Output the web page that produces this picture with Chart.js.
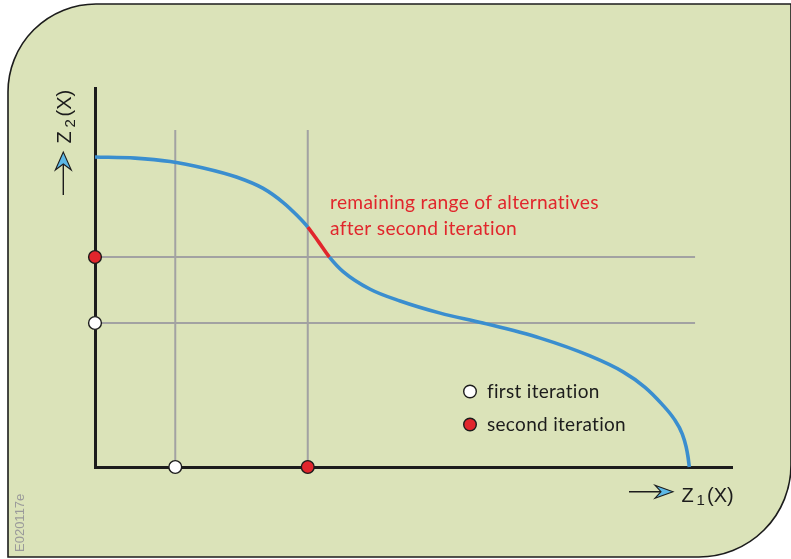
<!DOCTYPE html>
<html><head><meta charset="utf-8">
<script src="https://cdn.jsdelivr.net/npm/chart.js@4"></script>
<style>html,body{margin:0;padding:0;background:#fff;overflow:hidden}canvas{display:block}</style>
</head><body>
<canvas id="c" width="791" height="559"></canvas>
<script>
// ---- data (arbitrary units, 0..100 on both axes) ----
const curveX = [0, 6.3, 11.8, 17.0, 22.2, 26.4, 29.6, 31.7, 33.4, 35.1, 36.8, 39.0, 43.2, 47.9, 54.2, 60.9, 69.9, 77.7, 82.9, 86.3, 89.0, 90.9, 92.2, 92.8, 93.1, 93.3];
const curveY = [81.8, 81.5, 80.6, 78.9, 76.5, 73.5, 69.7, 66.4, 63.3, 59.4, 55.4, 51.5, 46.9, 43.8, 40.6, 38.0, 34.0, 29.3, 25.1, 21.1, 16.6, 12.7, 8.7, 5.3, 2.6, 0];
const remainingRangeX = [33.4, 36.8];
const gridXValues = [12.6, 33.4];
const gridYValues = [55.4, 38.0];
const gridTop = 88.9;
const gridRight = 94.2;
const firstIterX = [0, 12.6];
const firstIterY = [38.0, 0];
const secondIterX = [0, 33.4];
const secondIterY = [55.4, 0];
const legendLabels = ['first iteration', 'second iteration'];
const annotationLines = ['remaining range of alternatives', 'after second iteration'];
const xAxisLabel = ['Z', '1', '(X)'];
const yAxisLabel = ['Z', '2', '(X)'];
const figureCode = 'E020117e';

const BLUE = '#3a8ecf', RED = '#e1262c', GRAY = '#a2a2a2', INK = '#1c1c1c', PANEL = '#dbe3b9';
const colorsFirst = '#ffffff', colorsSecond = '#e1262c';

const gridDatasets = [
  ...gridXValues.map(v => ({data: [{x: v, y: 0}, {x: v, y: gridTop}]})),
  ...gridYValues.map(v => ({data: [{x: 0, y: v}, {x: gridRight, y: v}]}))
].map(d => Object.assign(d, {showLine: true, borderColor: GRAY, borderWidth: 2, pointRadius: 0, order: 3, clip: false}));

const zip = (xs, ys) => xs.map((x, i) => ({x, y: ys[i]}));

const bgPlugin = {
  id: 'panel',
  beforeDraw(chart) {
    const ctx = chart.ctx;
    ctx.save();
    ctx.fillStyle = '#fff';
    ctx.fillRect(0, 0, chart.width, chart.height);
    const L = 8, T = 4, R = 791, B = 557, r1 = 88, r2 = 92;
    ctx.beginPath();
    ctx.moveTo(L, B);
    ctx.lineTo(L, T + r1);
    ctx.arcTo(L, T, L + r1, T, r1);
    ctx.lineTo(R, T);
    ctx.lineTo(R, B - r2);
    ctx.arcTo(R, B, R - r2, B, r2);
    ctx.closePath();
    ctx.fillStyle = PANEL;
    ctx.fill();
    ctx.lineWidth = 1.6;
    ctx.strokeStyle = INK;
    ctx.stroke();
    ctx.restore();
  }
};

function arrowHead(ctx, tipX, tipY, dir, len, half, notch) {
  ctx.beginPath();
  if (dir === 'right') {
    ctx.moveTo(tipX, tipY);
    ctx.lineTo(tipX - len, tipY - half);
    ctx.lineTo(tipX - len + notch, tipY);
    ctx.lineTo(tipX - len, tipY + half);
  } else {
    ctx.moveTo(tipX, tipY);
    ctx.lineTo(tipX - half, tipY + len);
    ctx.lineTo(tipX, tipY + len - notch);
    ctx.lineTo(tipX + half, tipY + len);
  }
  ctx.closePath();
  ctx.fillStyle = '#5cb8e6';
  ctx.fill();
  ctx.lineWidth = 1.1;
  ctx.strokeStyle = INK;
  ctx.stroke();
}

const textPlugin = {
  id: 'texts',
  afterDraw(chart) {
    const ctx = chart.ctx;
    ctx.save();
    ctx.textBaseline = 'alphabetic';
    if ('letterSpacing' in ctx) ctx.letterSpacing = '0.3px';
    // annotation
    ctx.fillStyle = RED;
    ctx.font = '19.2px Lato';
    ctx.fillText(annotationLines[0], 330, 209);
    ctx.fillText(annotationLines[1], 330, 235);
    // legend
    const markers = [colorsFirst, colorsSecond];
    legendLabels.forEach((t, i) => {
      const cy = 391.5 + i * 33;
      ctx.beginPath();
      ctx.arc(470, cy, 6.3, 0, Math.PI * 2);
      ctx.fillStyle = markers[i];
      ctx.fill();
      ctx.lineWidth = 1.4;
      ctx.strokeStyle = INK;
      ctx.stroke();
      ctx.fillStyle = INK;
      ctx.font = '19px Lato';
      ctx.fillText(t, 487, cy + 6);
    });
    if ('letterSpacing' in ctx) ctx.letterSpacing = '0px';
    // x axis label + arrow
    ctx.strokeStyle = INK;
    ctx.lineWidth = 1.4;
    ctx.beginPath(); ctx.moveTo(629, 491.7); ctx.lineTo(662, 491.7); ctx.stroke();
    arrowHead(ctx, 673, 491.7, 'right', 18, 6.5, 6);
    ctx.fillStyle = INK;
    ctx.font = '20px "Liberation Sans"';
    ctx.fillText(xAxisLabel[0], 681.5, 502);
    ctx.font = '15px "Liberation Sans"';
    ctx.fillText(xAxisLabel[1], 696.5, 504.5);
    ctx.font = '20px "Liberation Sans"';
    ctx.fillText(xAxisLabel[2], 707, 502);
    // y axis label + arrow
    ctx.strokeStyle = INK;
    ctx.lineWidth = 1.4;
    ctx.beginPath(); ctx.moveTo(63.3, 195); ctx.lineTo(63.3, 163); ctx.stroke();
    arrowHead(ctx, 63.3, 152, 'up', 18, 8, 6);
    ctx.save();
    ctx.translate(70.5, 143.5);
    ctx.rotate(-Math.PI / 2);
    ctx.fillStyle = INK;
    ctx.font = '20px "Liberation Sans"';
    ctx.fillText(yAxisLabel[0], 0, 0);
    ctx.font = '15px "Liberation Sans"';
    ctx.fillText(yAxisLabel[1], 16, 4);
    ctx.font = '20px "Liberation Sans"';
    ctx.fillText(yAxisLabel[2], 27, 0);
    ctx.restore();
    // figure code
    ctx.save();
    ctx.translate(23.5, 552);
    ctx.rotate(-Math.PI / 2);
    ctx.fillStyle = '#9a9a9a';
    ctx.font = '13px "Liberation Sans"';
    ctx.fillText(figureCode, 0, 0);
    ctx.restore();
    ctx.restore();
  }
};

const hiddenScale = {
  type: 'linear', min: 0, max: 100, display: true,
  grid: {display: false, drawTicks: false},
  ticks: {display: false},
  border: {display: true, color: INK, width: 3}
};

new Chart(document.getElementById('c'), {
  type: 'scatter',
  data: {
    datasets: [
      {
        label: 'first iteration',
        data: zip(firstIterX, firstIterY),
        pointRadius: 6.4, pointBackgroundColor: colorsFirst, pointBorderColor: INK, pointBorderWidth: 1.4,
        showLine: false, order: 0, clip: false
      },
      {
        label: 'second iteration',
        data: zip(secondIterX, secondIterY),
        pointRadius: 6.4, pointBackgroundColor: colorsSecond, pointBorderColor: INK, pointBorderWidth: 1.4,
        showLine: false, order: 0, clip: false
      },
      {
        label: 'frontier',
        data: zip(curveX, curveY),
        showLine: true, borderColor: BLUE, borderWidth: 3.6, pointRadius: 0,
        cubicInterpolationMode: 'monotone', order: 1, clip: false,
        segment: {
          borderColor: c => (c.p0.parsed.x >= remainingRangeX[0] - 1e-6 && c.p1.parsed.x <= remainingRangeX[1] + 1e-6) ? RED : BLUE
        }
      },
      ...gridDatasets
    ]
  },
  options: {
    responsive: false,
    devicePixelRatio: 1,
    animation: false,
    events: [],
    layout: {padding: {left: 95, right: 59, top: 88, bottom: 92}},
    plugins: {legend: {display: false}, tooltip: {enabled: false}},
    scales: {x: hiddenScale, y: hiddenScale}
  },
  plugins: [bgPlugin, textPlugin]
});
</script>
</body></html>
